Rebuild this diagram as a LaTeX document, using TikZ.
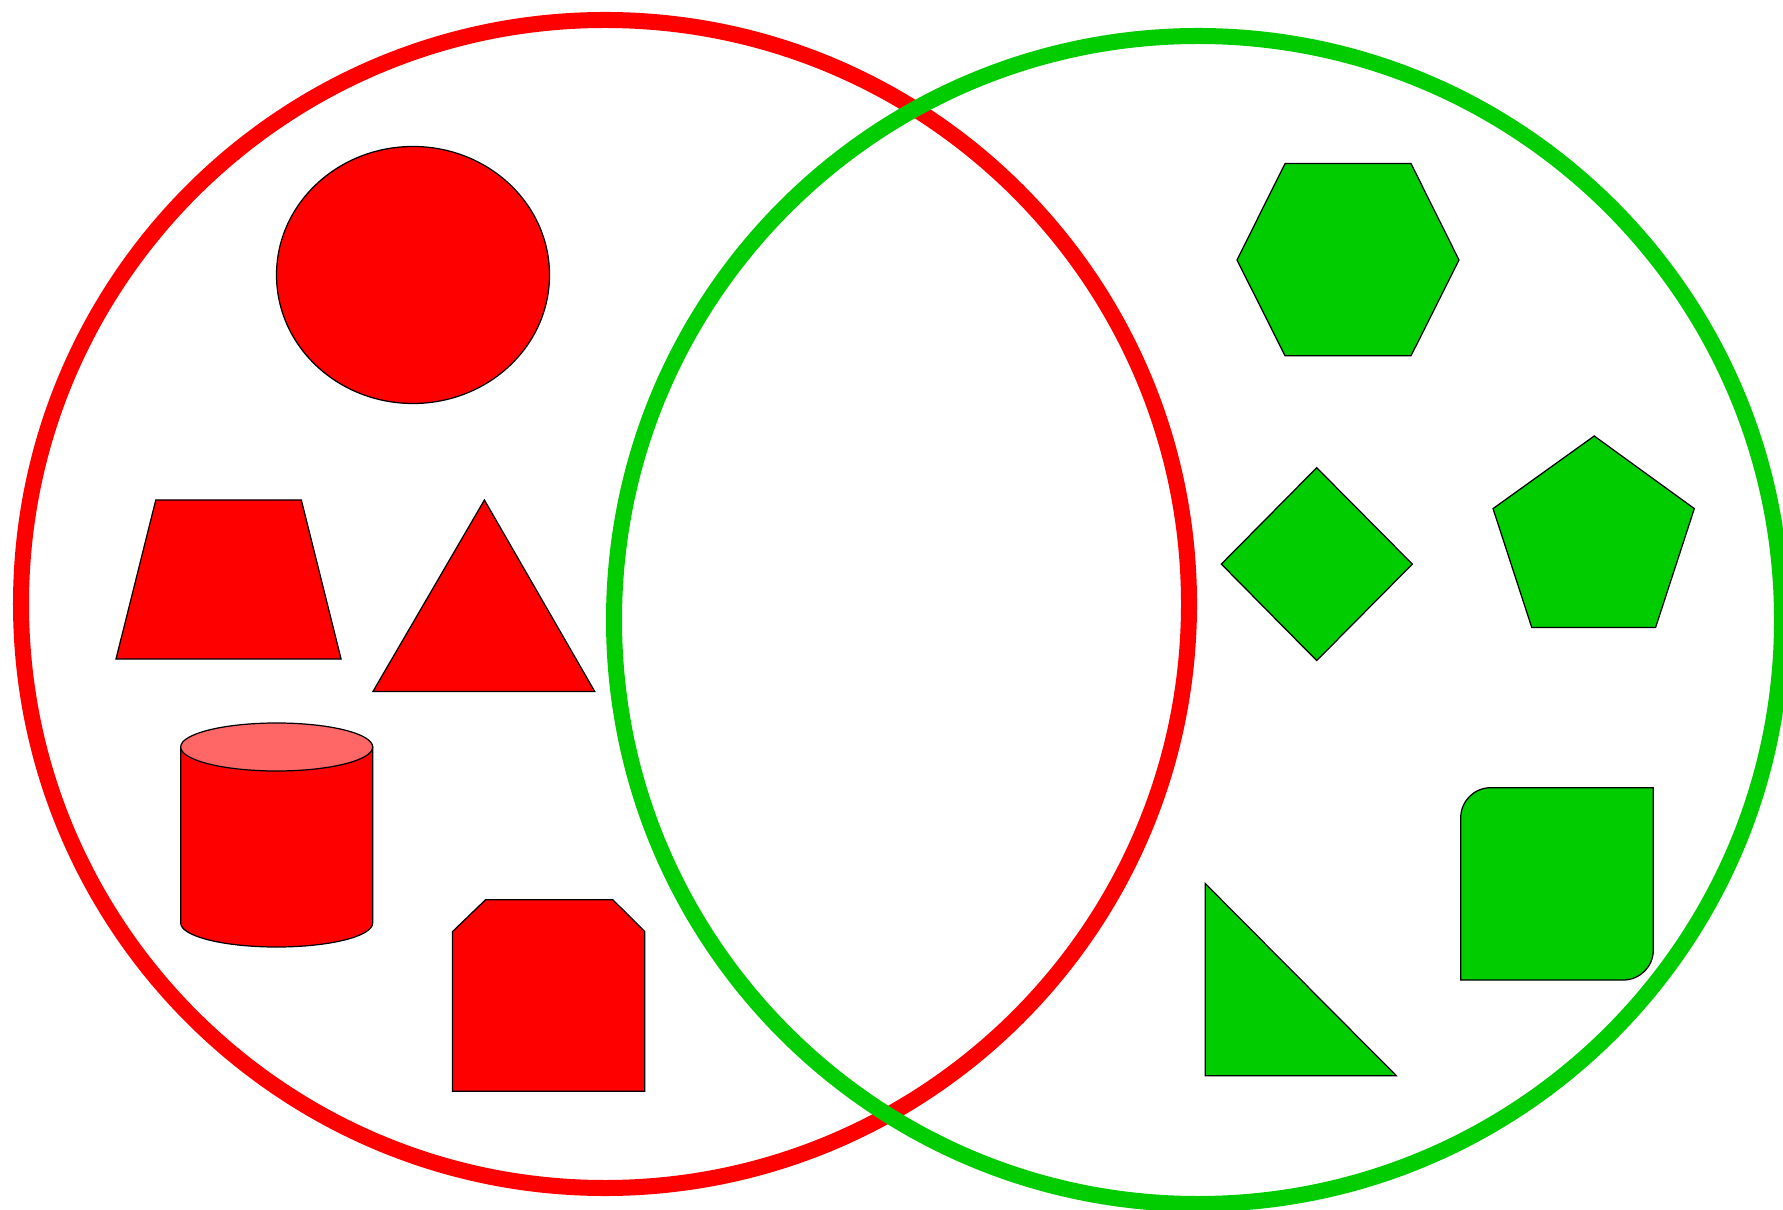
\documentclass[tikz,border=0pt]{standalone}
\definecolor{vred}{HTML}{FF0000}
\definecolor{vgreen}{HTML}{00CC00}
\definecolor{vlight}{HTML}{FF6666}
\tikzset{
  ring/.style={line width=0.16cm},
  redshape/.style={draw=black, fill=vred, line width=0.35pt, line join=miter},
  greenshape/.style={draw=black, fill=vgreen, line width=0.35pt, line join=miter},
}
\begin{document}
\begin{tikzpicture}[x=0.01cm,y=-0.01cm]
\useasboundingbox (0,0) rectangle (1783,1210);
\clip (0,0) rectangle (1783,1210);
\fill[white] (0,0) rectangle (1783,1210);
% set rings
\draw[ring, vred] (605,604) circle[radius=584];
\draw[ring, vgreen] (1198,620) circle[radius=584];
% red shapes
\draw[redshape] (413,275) ellipse[x radius=136.5, y radius=128.5];
\draw[redshape] (155.8,500) -- (301.3,500) -- (341.1,659) -- (116,659) -- cycle;
\draw[redshape] (484.4,500) -- (594.7,691.4) -- (373,691.4) -- cycle;
\draw[redshape] (180.7,747) -- (180.7,923) arc[start angle=180, end angle=0, x radius=96, y radius=24] -- (372.7,747) -- cycle;
\draw[redshape, fill=vlight] (276.7,747) ellipse[x radius=96, y radius=24];
\draw[redshape] (485.5,899.8) -- (612.9,899.8) -- (644.7,931.5) -- (644.7,1091.2) -- (452.6,1091.2) -- (452.6,931.5) -- cycle;
% green shapes
\draw[greenshape] (1285,163.6) -- (1411,163.6) -- (1459,260) -- (1411,355.8) -- (1285,355.8) -- (1237,260) -- cycle;
\draw[greenshape] (1316.7,467.7) -- (1412.3,564.1) -- (1316.7,660.6) -- (1221.3,564.1) -- cycle;
\draw[greenshape] (1594.2,436) -- (1694.3,508.6) -- (1655.6,627.4) -- (1531.7,627.4) -- (1493,508.6) -- cycle;
\draw[greenshape] (1460.7,980) [rounded corners=0.3cm] -- (1460.7,787.7) [sharp corners] -- (1653.3,787.7) [rounded corners=0.3cm] -- (1653.3,980) [sharp corners] -- cycle;
\draw[greenshape] (1205.3,883.6) -- (1396.4,1075.8) -- (1205.3,1075.8) -- cycle;
\end{tikzpicture}
\end{document}
